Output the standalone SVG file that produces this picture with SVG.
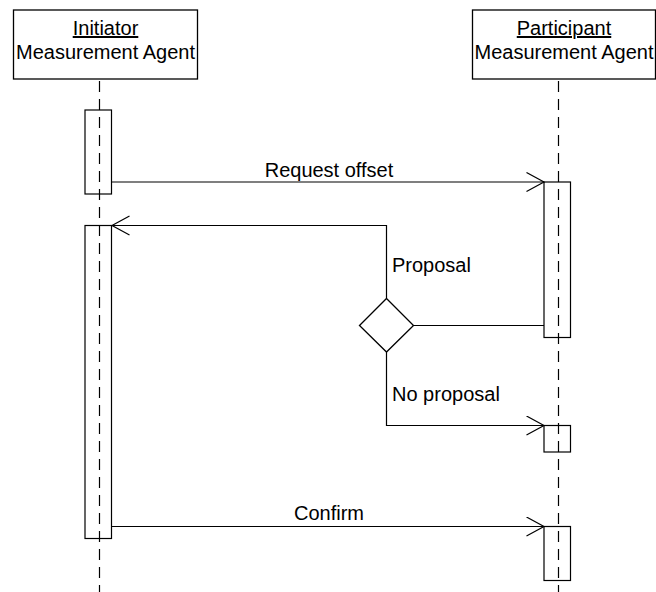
<svg xmlns="http://www.w3.org/2000/svg" width="656" height="592" viewBox="0 0 656 592">
<style>
.box{fill:#fff;stroke:#000;stroke-width:1.3}
.act{fill:none;stroke:#000;stroke-width:1.2}
.life{stroke:#000;stroke-width:1.2;stroke-dasharray:11 7;fill:none}
.ln{stroke:#000;stroke-width:1.2;fill:none}
text{font-family:"Liberation Sans",Arial,sans-serif;font-size:20px;fill:#000}
.c{text-anchor:middle}
</style>
<defs>
<marker id="open" markerWidth="20" markerHeight="22" refX="18" refY="10" orient="auto" markerUnits="userSpaceOnUse">
<path d="M0.5,0.5 L18,10 L0.5,19.5" fill="none" stroke="#000" stroke-width="1.2"/>
</marker>
</defs>
<g id="initiator">
<rect class="box" x="13.5" y="10" width="184" height="69"/>
<text class="c" x="105.5" y="35" text-decoration="underline">Initiator</text>
<text class="c" x="105.5" y="58.5">Measurement Agent</text>
</g>
<g id="participant">
<rect class="box" x="472.5" y="10" width="183" height="69"/>
<text class="c" x="564" y="35" text-decoration="underline">Participant</text>
<text class="c" x="564" y="58.5">Measurement Agent</text>
</g>
<g id="lifelines">
<line class="life" x1="99.5" y1="81" x2="99.5" y2="592"/>
<line class="life" x1="558.5" y1="81" x2="558.5" y2="592"/>
</g>
<g id="activations">
<rect id="init-act1" class="act" x="85" y="110" width="26.5" height="84"/>
<rect id="init-act2" class="act" x="85" y="225.5" width="26.5" height="313"/>
<rect id="part-act1" class="act" x="544" y="182" width="26.5" height="155.5"/>
<rect id="part-act2" class="act" x="544" y="425.5" width="26.5" height="26.5"/>
<rect id="part-act3" class="act" x="544" y="526.5" width="26.5" height="54"/>
</g>
<g id="decision">
<polygon class="box" points="386.5,298.5 413.5,325.5 386.5,352 359.5,325.5"/>
</g>
<g id="connectors">
<line class="ln" x1="111.5" y1="182" x2="544" y2="182" marker-end="url(#open)"/>
<polyline class="ln" points="544,325.5 413.5,325.5"/>
<polyline class="ln" points="386.5,298.5 386.5,225.5 112,225.5" marker-end="url(#open)"/>
<polyline class="ln" points="386.5,352 386.5,425.5 544,425.5" marker-end="url(#open)"/>
<line class="ln" x1="111.5" y1="526.5" x2="544" y2="526.5" marker-end="url(#open)"/>
</g>
<g id="labels">
<text class="c" x="329" y="176.5">Request offset</text>
<text x="392" y="272">Proposal</text>
<text x="392" y="400.5">No proposal</text>
<text class="c" x="329" y="520">Confirm</text>
</g>
</svg>
